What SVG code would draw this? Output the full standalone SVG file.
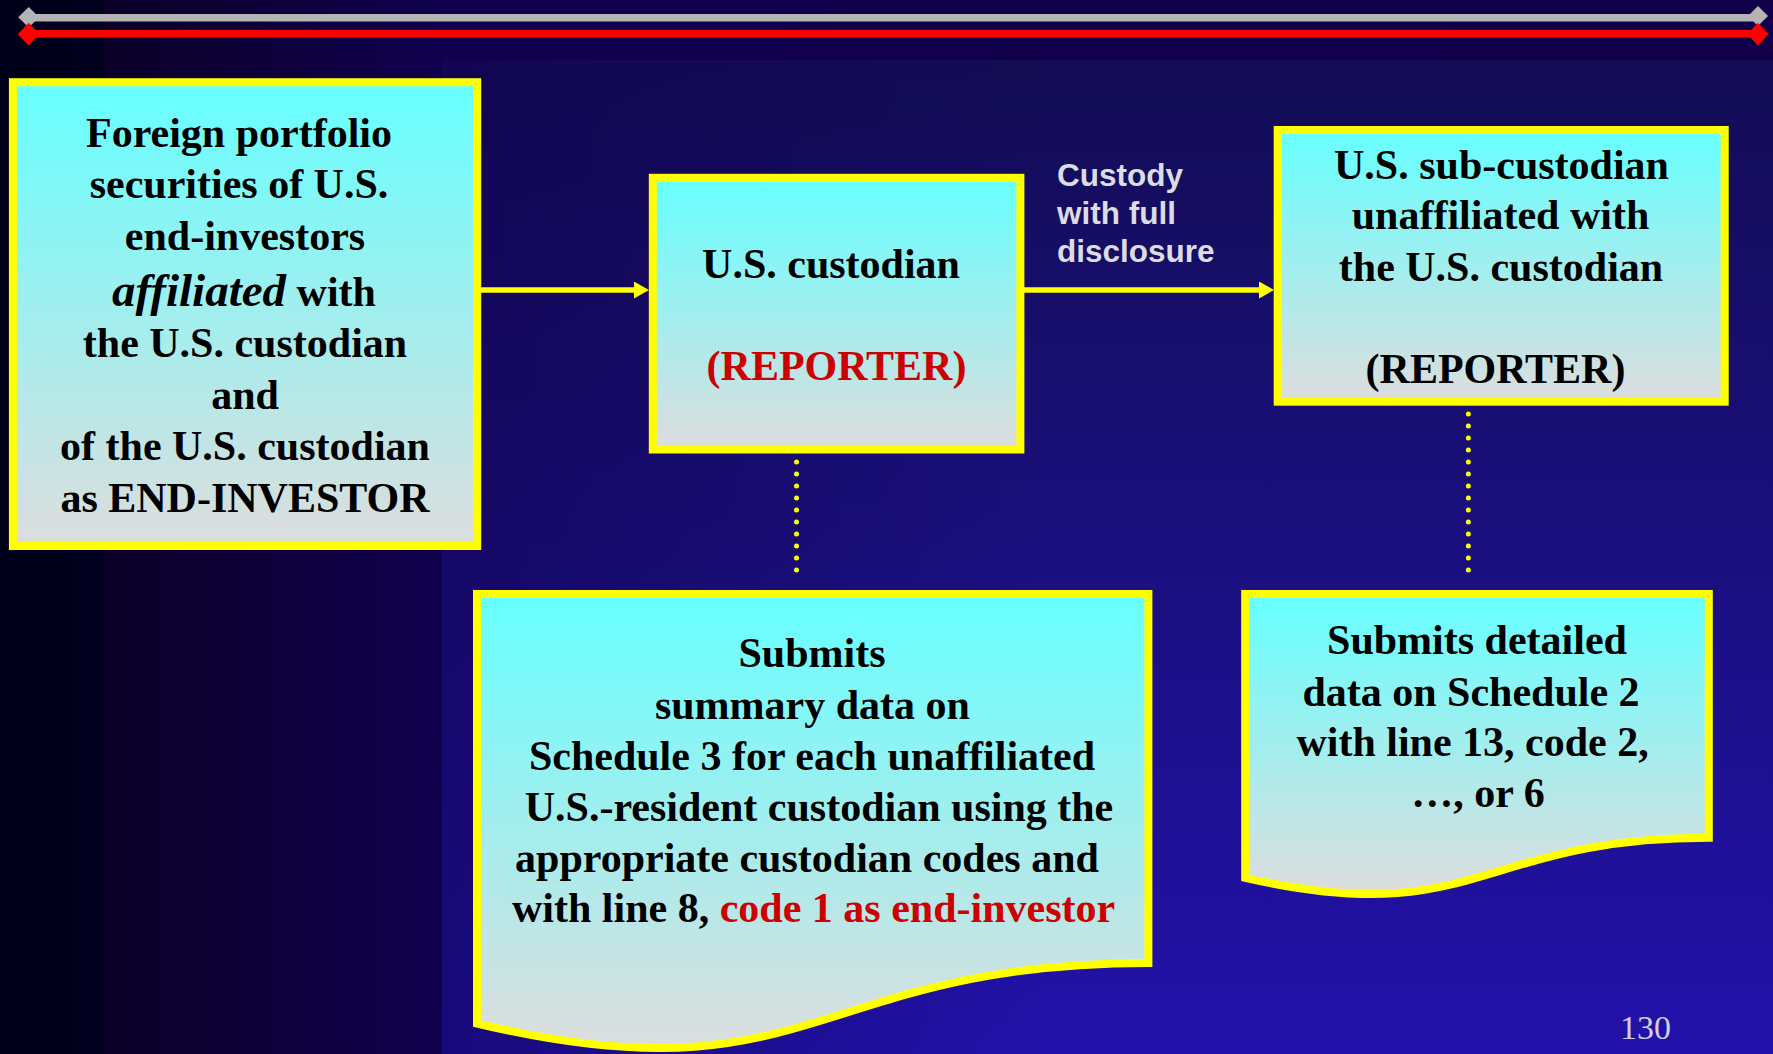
<svg xmlns="http://www.w3.org/2000/svg" width="1773" height="1054" viewBox="0 0 1773 1054">
<defs>
<linearGradient id="bgH" x1="0" y1="0" x2="1" y2="0">
<stop offset="0" stop-color="#00001a"/>
<stop offset="0.058" stop-color="#000020"/>
<stop offset="0.059" stop-color="#0b0028"/>
<stop offset="0.249" stop-color="#10004e"/>
<stop offset="1" stop-color="#10004a"/>
</linearGradient>
<linearGradient id="bgP" x1="0" y1="0" x2="0" y2="1">
<stop offset="0" stop-color="#130c54"/>
<stop offset="1" stop-color="#2212aa"/>
</linearGradient>
<linearGradient id="bgPL" x1="0" y1="0" x2="1" y2="0">
<stop offset="0" stop-color="#10004e" stop-opacity="0.5"/>
<stop offset="0.45" stop-color="#10004e" stop-opacity="0"/>
</linearGradient>
<linearGradient id="boxFill" x1="0" y1="0" x2="0" y2="1">
<stop offset="0" stop-color="#66ffff"/>
<stop offset="1" stop-color="#dddddd"/>
</linearGradient>
<marker id="arrow" markerUnits="userSpaceOnUse" markerWidth="16" markerHeight="18" refX="3" refY="8.5" orient="auto">
<path d="M0,0 L15,8.5 L0,17 Z" fill="#ffff00"/>
</marker>
<style>
.box{fill:url(#boxFill);stroke:#ffff00;stroke-width:8}
.t{font-family:"Liberation Serif","Times New Roman",serif;font-weight:bold;font-size:42px;fill:#000;text-anchor:middle}
.red{fill:#cc0000}
.lbl{font-family:"Liberation Sans",Arial,sans-serif;font-weight:bold;font-size:31.5px;fill:#dcdce4}
.conn{stroke:#ffff00;stroke-width:5.5;fill:none}
.dot{stroke:#ffff00;stroke-width:5;stroke-linecap:round;stroke-dasharray:0 12;fill:none}
.pg{font-family:"Liberation Serif","Times New Roman",serif;font-size:34px;fill:#d0d0e0}
</style>
</defs>

<g id="background">
<rect x="0" y="0" width="1773" height="1054" fill="url(#bgH)"/>
<rect x="442" y="60" width="1331" height="994" fill="url(#bgP)"/>
<rect x="442" y="60" width="1331" height="994" fill="url(#bgPL)"/>
</g>

<g id="header-bars">
<line x1="28.7" y1="17.8" x2="1758" y2="17.8" stroke="#b4b4b4" stroke-width="7.5"/>
<line x1="28.7" y1="33.8" x2="1758" y2="33.8" stroke="#ff0000" stroke-width="7.5"/>
<polygon points="28.7,7 39.2,17.3 28.7,27.6 18.2,17.3" fill="#b4b4b4"/>
<polygon points="1758,6 1768,16 1758,26 1748,16" fill="#b4b4b4"/>
<polygon points="28.7,22.8 39.6,34 28.7,45.5 17.8,34" fill="#ff0000"/>
<polygon points="1758,22.7 1768.5,34 1758,45.7 1747.5,34" fill="#ff0000"/>
</g>

<g id="connectors">
<line class="conn" x1="481" y1="290" x2="637" y2="290" marker-end="url(#arrow)"/>
<line class="conn" x1="1024" y1="290" x2="1262" y2="290" marker-end="url(#arrow)"/>
<line class="dot" x1="796.5" y1="462" x2="796.5" y2="582"/>
<line class="dot" x1="1468.4" y1="414" x2="1468.4" y2="582"/>
<text class="lbl" x="1057" y="186">Custody</text>
<text class="lbl" x="1057" y="224">with full</text>
<text class="lbl" x="1057" y="262">disclosure</text>
</g>

<g id="node-end-investors">
<rect class="box" x="12.9" y="82.2" width="464.3" height="463.8"/>
<text class="t" x="239" y="147.3">Foreign portfolio</text>
<text class="t" x="239" y="197.7">securities of U.S.</text>
<text class="t" x="245" y="250">end-investors</text>
<text class="t" x="244" y="306"><tspan font-style="italic" font-size="47px">affiliated</tspan> with</text>
<text class="t" x="245" y="356.7">the U.S. custodian</text>
<text class="t" x="245" y="409">and</text>
<text class="t" x="245" y="460">of the U.S. custodian</text>
<text class="t" x="245" y="511.7">as END-INVESTOR</text>
</g>

<g id="node-us-custodian">
<rect class="box" x="652.8" y="177.8" width="367.6" height="271.7"/>
<text class="t" x="831" y="277.7">U.S. custodian</text>
<text class="t red" x="836.5" y="380">(REPORTER)</text>
</g>

<g id="node-sub-custodian">
<rect class="box" x="1277.7" y="130" width="447" height="271.7"/>
<text class="t" x="1501.5" y="179">U.S. sub-custodian</text>
<text class="t" x="1500.5" y="229.3">unaffiliated with</text>
<text class="t" x="1501" y="281">the U.S. custodian</text>
<text class="t" x="1495.5" y="383.3">(REPORTER)</text>
</g>

<g id="node-summary-data">
<path class="box" d="M477,594 H1148.4 V962.9 C812.7,962.9 812.7,1103.5 477,1023.6 Z"/>
<text class="t" x="812" y="667">Submits</text>
<text class="t" x="812.4" y="718.8">summary data on</text>
<text class="t" x="812" y="770">Schedule 3 for each unaffiliated</text>
<text class="t" x="819" y="820.6">U.S.-resident custodian using the</text>
<text class="t" x="807" y="871.9">appropriate custodian codes and</text>
<text class="t" x="813.6" y="922.4">with line 8, <tspan class="red">code 1 as end-investor</tspan></text>
</g>

<g id="node-detailed-data">
<path class="box" d="M1245.2,594 H1708.8 V837.8 C1477,837.8 1477,930.7 1245.2,877.9 Z"/>
<text class="t" x="1477" y="654.3">Submits detailed</text>
<text class="t" x="1471" y="705.7">data on Schedule 2</text>
<text class="t" x="1472.6" y="756">with line 13, code 2,</text>
<text class="t" x="1478" y="807.3">…, or 6</text>
</g>

<g id="page-number">
<text class="pg" x="1620" y="1039">130</text>
</g>
</svg>
